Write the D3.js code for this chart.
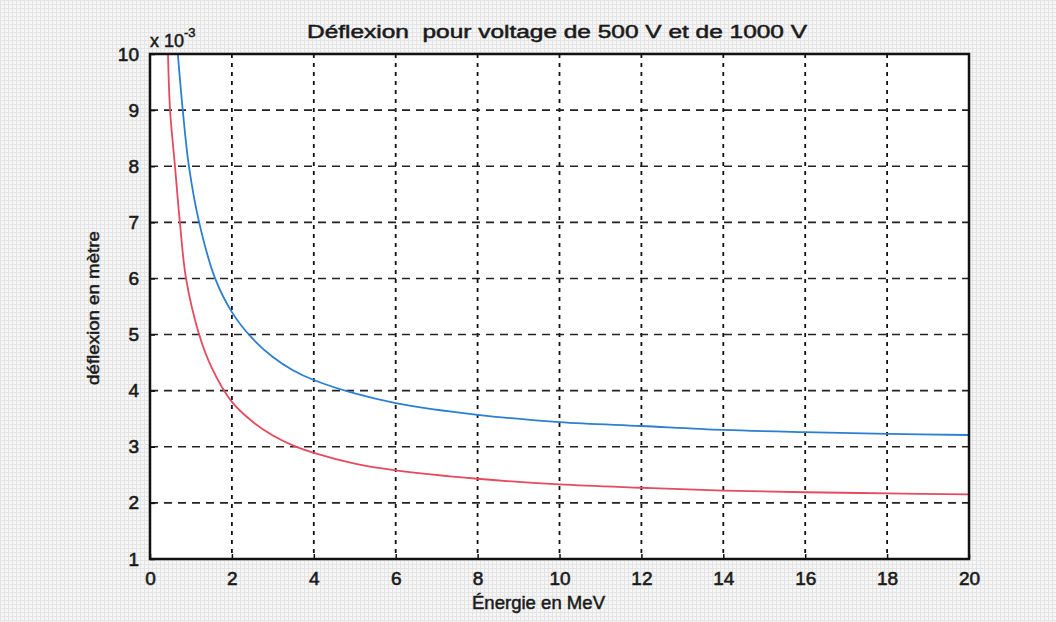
<!DOCTYPE html>
<html>
<head>
<meta charset="utf-8">
<script src="https://cdn.jsdelivr.net/npm/d3@7"></script>
<style>
  body { margin: 0; background: #f4f4f4; }
  svg { display: block; font-family: "Liberation Sans", Arial, sans-serif; }
</style>
</head>
<body>
<svg id="chart" width="1056" height="622"></svg>
<script>
// energie en MeV / deflexion (x 10^-3 m)
var blueE = [0.68, 0.8, 0.95, 1.2, 1.59, 2, 2.5, 3, 3.5, 4, 5, 6, 8, 10, 12, 14, 16, 18, 20];
var blueD = [10, 9, 8, 7, 6, 5.4, 4.93, 4.6, 4.36, 4.19, 3.95, 3.78, 3.57, 3.44, 3.37, 3.3, 3.26, 3.23, 3.21];
var redE = [0.44, 0.49, 0.61, 0.73, 0.88, 1.2, 1.5, 2, 2.5, 3, 3.5, 4, 5, 6, 8, 10, 12, 14, 16, 18, 20];
var redD = [10, 9, 8, 7, 6, 5, 4.42, 3.8, 3.45, 3.2, 3.02, 2.89, 2.7, 2.58, 2.43, 2.33, 2.27, 2.22, 2.19, 2.17, 2.15];
var xTicks = [0, 2, 4, 6, 8, 10, 12, 14, 16, 18, 20];
var yTicks = [1, 2, 3, 4, 5, 6, 7, 8, 9, 10];

var margin = { left: 150, top: 54, right: 87, bottom: 63 };
var width = 1056 - margin.left - margin.right;
var height = 622 - margin.top - margin.bottom;

var svg = d3.select('#chart');

// texture du fond (scan)
var pat = svg.append('defs').append('pattern')
    .attr('id', 'grain')
    .attr('width', 4).attr('height', 4)
    .attr('patternUnits', 'userSpaceOnUse');
pat.append('rect').attr('width', 4).attr('height', 4).attr('fill', '#f6f6f6');
pat.append('path').attr('d', 'M0,0.5H4M0.5,0V4').attr('stroke', '#e4e4e4').attr('stroke-width', 1);
svg.append('rect').attr('width', 1056).attr('height', 622).attr('fill', 'url(#grain)');

var x = d3.scaleLinear().domain([0, 20]).range([0, width]);
var y = d3.scaleLinear().domain([1, 10]).range([height, 0]);

var g = svg.append('g').attr('transform', `translate(${margin.left},${margin.top})`);

g.append('rect')
    .attr('width', width)
    .attr('height', height)
    .attr('fill', '#fff');

// grille
g.selectAll('.vgrid')
    .data(xTicks.slice(1, -1))
    .enter().append('line')
    .attr('x1', d => x(d)).attr('x2', d => x(d))
    .attr('y1', 0).attr('y2', height)
    .attr('stroke', '#111')
    .attr('stroke-width', 1.8)
    .attr('stroke-dasharray', '4,5');

g.selectAll('.hgrid')
    .data(yTicks.slice(1, -1))
    .enter().append('line')
    .attr('x1', 0).attr('x2', width)
    .attr('y1', d => y(d)).attr('y2', d => y(d))
    .attr('stroke', '#222')
    .attr('stroke-width', 1.6)
    .attr('stroke-dasharray', '8,6');

var line = d3.line()
    .x(d => x(d[0]))
    .y(d => y(d[1]))
    .curve(d3.curveCatmullRom);

g.append('path')
    .datum(d3.zip(blueE, blueD))
    .attr('fill', 'none')
    .attr('stroke', '#2b7fd3')
    .attr('stroke-width', 1.8)
    .attr('d', line);

g.append('path')
    .datum(d3.zip(redE, redD))
    .attr('fill', 'none')
    .attr('stroke', '#e64a5e')
    .attr('stroke-width', 1.8)
    .attr('d', line);

// axes
var xAxis = g.append('g')
    .attr('transform', `translate(0,${height})`)
    .call(d3.axisBottom(x).tickValues(xTicks).tickSizeInner(-5).tickSizeOuter(0).tickPadding(10));
var yAxis = g.append('g')
    .call(d3.axisLeft(y).tickValues(yTicks).tickSizeInner(-5).tickSizeOuter(0).tickPadding(10));

[xAxis, yAxis].forEach(a => {
    a.select('.domain').remove();
    a.selectAll('line').attr('stroke', '#111').attr('stroke-width', 1.5);
    a.selectAll('text')
        .attr('fill', '#1a1a1a')
        .attr('stroke', '#1a1a1a')
        .attr('stroke-width', 0.6)
        .style('font-size', '19px')
        .style('font-family', '"Liberation Sans", Arial, sans-serif');
});
xAxis.selectAll('text').attr('dy', '0.85em');
yAxis.selectAll('text').attr('dx', '-1');

g.append('rect')
    .attr('width', width)
    .attr('height', height)
    .attr('fill', 'none')
    .attr('stroke', '#111')
    .attr('stroke-width', 2.5);

// textes
var exp = svg.append('text')
    .attr('x', 150)
    .attr('y', 47)
    .attr('fill', '#1a1a1a')
    .attr('stroke', '#1a1a1a')
    .attr('stroke-width', 0.5)
    .style('font-size', '18px')
    .text('x 10');
exp.append('tspan')
    .attr('dy', -10)
    .style('font-size', '13px')
    .text('-3');

svg.append('text')
    .attr('x', 307)
    .attr('y', 38)
    .attr('textLength', 500)
    .attr('lengthAdjust', 'spacingAndGlyphs')
    .attr('fill', '#1a1a1a')
    .attr('stroke', '#1a1a1a')
    .attr('stroke-width', 0.5)
    .style('font-size', '18px')
    .style('white-space', 'pre')
    .text('Déflexion  pour voltage de 500 V et de 1000 V');

svg.append('text')
    .attr('x', 472)
    .attr('y', 609)
    .attr('textLength', 133)
    .attr('lengthAdjust', 'spacingAndGlyphs')
    .attr('fill', '#1a1a1a')
    .attr('stroke', '#1a1a1a')
    .attr('stroke-width', 0.5)
    .style('font-size', '19px')
    .text('Énergie en MeV');

svg.append('text')
    .attr('transform', 'translate(99,308) rotate(-90) scale(1.1,1)')
    .attr('text-anchor', 'middle')
    .attr('fill', '#1a1a1a')
    .attr('stroke', '#1a1a1a')
    .attr('stroke-width', 0.5)
    .style('font-size', '17px')
    .text('déflexion en mètre');
</script>
</body>
</html>
